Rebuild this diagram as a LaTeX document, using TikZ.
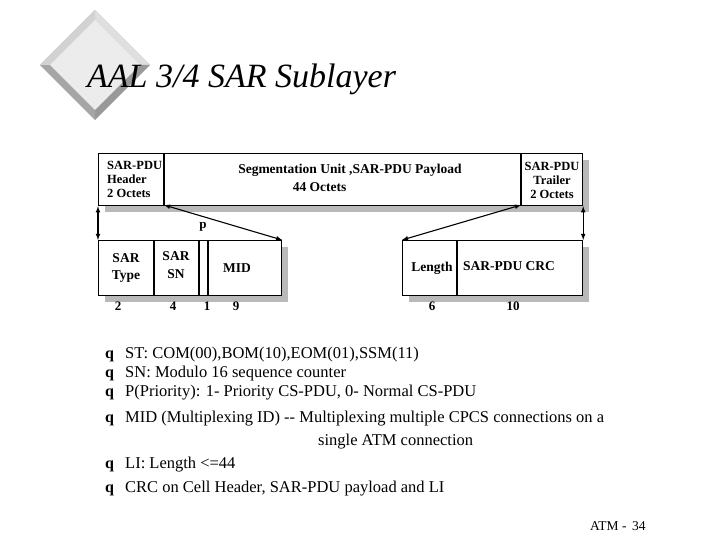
\documentclass[tikz,border=0pt]{standalone}
\usepackage{fontspec}
\setmainfont{Liberation Serif}
\begin{document}
\begin{tikzpicture}[x=1pt,y=-1pt,
  bx/.style={draw,line width=1.2pt,fill=white},
  sh/.style={fill=gray!55},
  lb/.style={font=\bfseries\fontsize{13.5}{14.5}\selectfont,align=center,inner sep=0pt},
  num/.style={font=\bfseries\fontsize{13}{14}\selectfont,inner sep=0pt},
  dar/.style={<->,>=latex,line width=1.1pt},
  bl/.style={anchor=base west,font=\fontsize{16.5}{18}\selectfont,inner sep=0pt}]
\useasboundingbox (0,0) rectangle (720,540);
% diamond
\fill[gray!50] (95,10) -- (150,65) -- (95,120) -- (40,65) -- cycle;
\fill[gray!25] (95,10) -- (150,65) -- (140,65) -- (95,20) -- cycle;
\fill[gray!70] (95,120) -- (40,65) -- (50,65) -- (95,110) -- cycle;
\fill[gray!80] (95,120) -- (150,65) -- (140,65) -- (95,110) -- cycle;
\fill[gray!35] (95,10) -- (40,65) -- (50,65) -- (95,20) -- cycle;
\fill[gray!15] (95,20) -- (140,65) -- (95,110) -- (50,65) -- cycle;
\node[anchor=base west,inner sep=0pt,font=\itshape\fontsize{34}{36}\selectfont] (title) at (87,88) {AAL 3/4 SAR Sublayer};
% top box
\fill[sh] (105,160) rectangle (589,212);
\node[bx,minimum width=484pt,minimum height=52pt,anchor=north west] (top) at (98,153) {};
\coordinate (t1) at (164,205);
\coordinate (t2) at (521,205);
\draw[line width=1.2pt] (164,153) -- (t1) (521,153) -- (t2);
\node[lb,align=left,anchor=west,font=\bfseries\fontsize{12.5}{14}\selectfont] (hdr) at (107,179) {SAR-PDU\\Header\\2 Octets};
\node[lb] (pay) at (350,178) {Segmentation Unit ,SAR-PDU Payload\\[3pt]\hspace*{-4.5em}44 Octets};
\node[lb,font=\bfseries\fontsize{12.5}{14}\selectfont] (trl) at (552,180) {SAR-PDU\\Trailer\\2 Octets};
% bottom left
\fill[sh] (105,247) rectangle (288,302);
\node[bx,minimum width=183pt,minimum height=55pt,anchor=north west] (bl) at (98,240) {};
\draw[line width=1.2pt] (154,240)--(154,295) (199,240)--(199,295) (208,240)--(208,295);
\node[lb] (st) at (126,268) {SAR\\[3pt]Type};
\node[lb] (sn) at (176,265) {SAR\\[3pt]SN};
\node[lb] (mid) at (237,268) {MID};
% bottom right
\fill[sh] (409,247) rectangle (589,302);
\node[bx,minimum width=180pt,minimum height=55pt,anchor=north west] (br) at (402,240) {};
\draw[line width=1.2pt] (457,240)--(457,295);
\node[lb] (len) at (432,268) {Length};
\node[lb] (crc) at (509,266) {SAR-PDU CRC};
% arrows
\draw[dar] (top.south west) -- (bl.north west);
\draw[dar] (top.south east) -- (br.north east);
\draw[dar] (t1) -- (bl.north east);
\draw[dar] (t2) -- (br.north west);
\node[num] (p) at (203,227) {p};
\foreach \x/\t/\n in {118/2/na,173/4/nb,207/1/nc,236/9/nd,432/6/ne,513/10/nf}
  \node[num] (\n) at (\x,306) {\t};
% bullets
\foreach \y/\t/\n in {358/{ST: COM(00),BOM(10),EOM(01),SSM(11)}/b1,
  377/{SN: Modulo 16 sequence counter}/b2,
  396/{P(Priority): 1- Priority CS-PDU, 0- Normal CS-PDU}/b3,
  422/{MID (Multiplexing ID) {-}{-} Multiplexing multiple CPCS connections on a}/b4,
  468/{LI: Length <=44}/b5,
  492/{CRC on Cell Header, SAR-PDU payload and LI}/b6}
  {\node[bl] (\n) at (125,\y) {\t};
   \node[bl,font=\bfseries\fontsize{16}{18}\selectfont] (q\n) at (105,\y) {q};}
\node[bl] (b4b) at (318,445) {single ATM connection};
\node[anchor=base west,inner sep=0pt,font=\fontsize{13.5}{15}\selectfont] (foot) at (590,530) {ATM -\, 34};
\end{tikzpicture}
\end{document}
